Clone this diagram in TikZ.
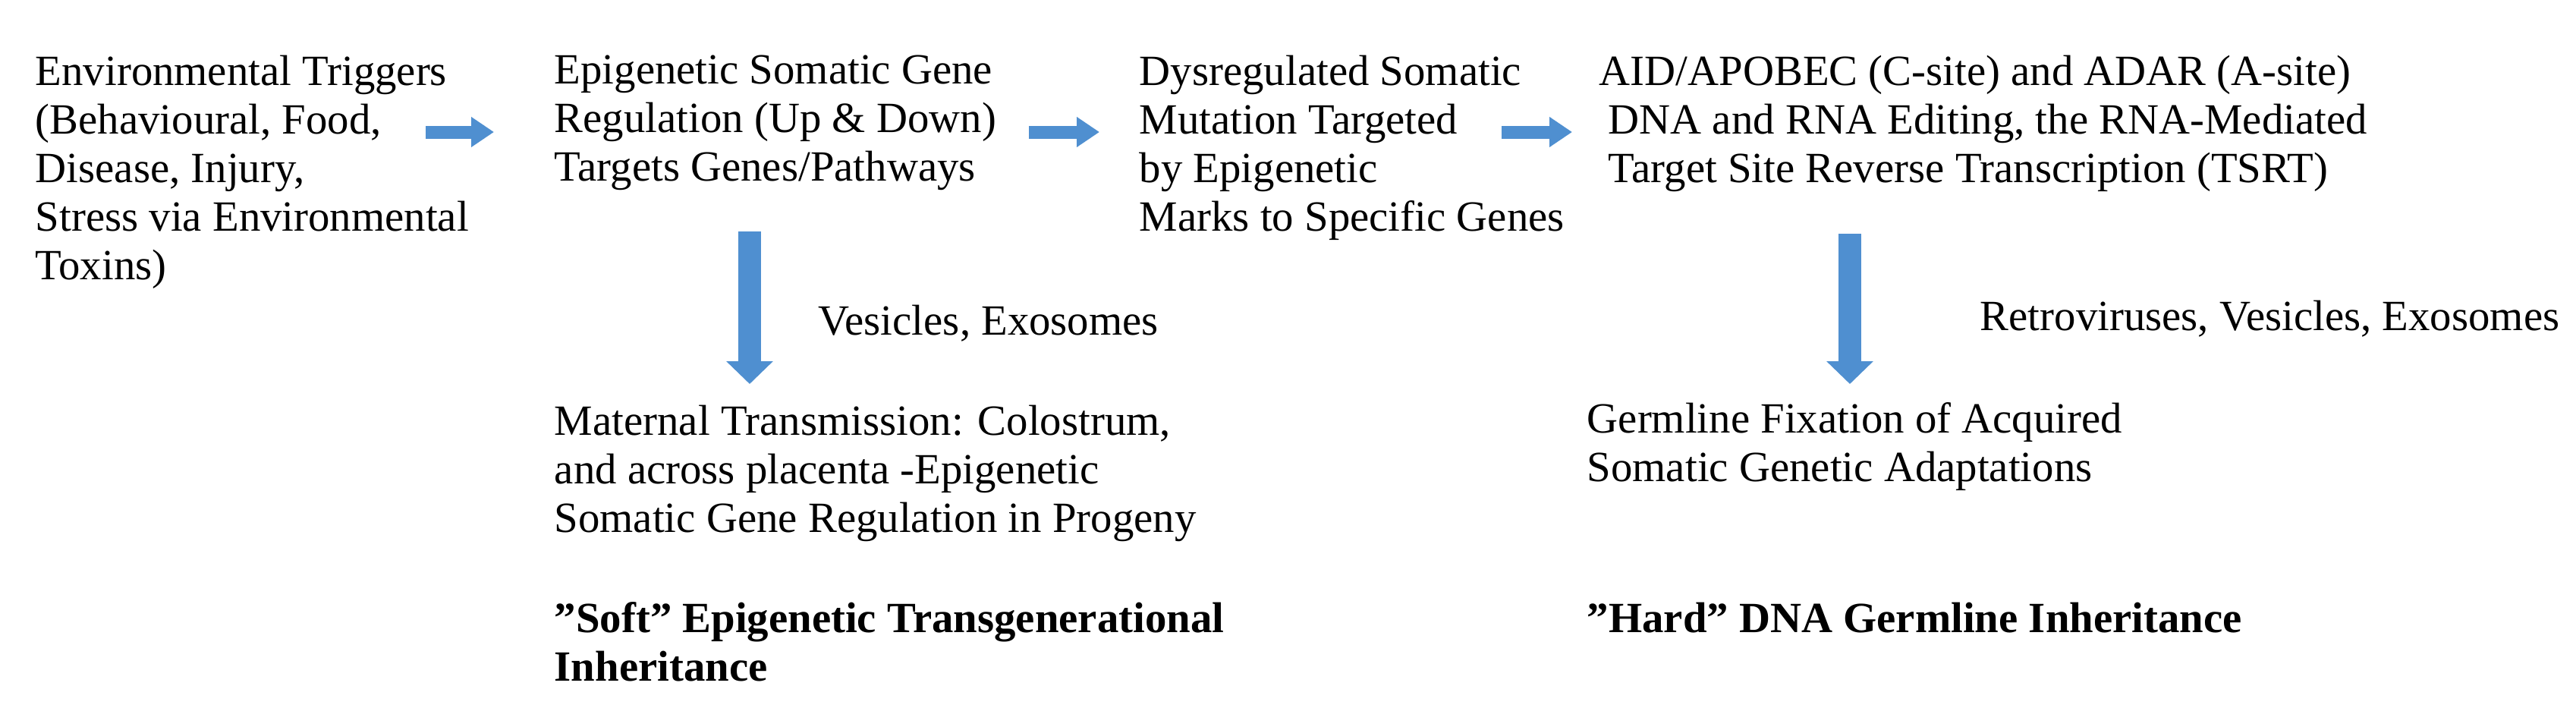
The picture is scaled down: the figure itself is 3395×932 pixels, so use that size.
\documentclass[tikz,border=0pt]{standalone}
\usepackage{fontspec}
\setmainfont{Liberation Serif}
\usetikzlibrary{arrows.meta}
\definecolor{arrblue}{HTML}{4F8FD0}
\newcommand{\dq}{\symbol{34}}
\begin{document}
\begin{tikzpicture}[x=0.25pt,y=-0.25pt,
  txt/.style={inner sep=0pt,anchor=north west,align=left,font=\fontsize{14.2}{16}\selectfont},
  harrow/.style={draw=arrblue,line width=4.25pt,-{Triangle[length=7.5pt,width=9.5pt]}},
  varrow/.style={draw=arrblue,line width=7.5pt,-{Triangle[length=7.5pt,width=15pt]}}]
\useasboundingbox (0,0) rectangle (3395,932);
\node[txt] (env) at (46,72) {Environmental Triggers\\(Behavioural, Food,\\Disease, Injury,\\Stress via Environmental\\Toxins)};
\node[txt] (epi) at (730,72) {Epigenetic Somatic Gene\\Regulation (Up \& Down)\\Targets Genes/Pathways};
\node[txt] (dys) at (1501,72) {Dysregulated Somatic\\Mutation Targeted\\by Epigenetic\\Marks to Specific Genes};
\node[txt] (aid) at (2107,72) {AID/APOBEC (C-site) and ADAR (A-site)\\\hspace*{3pt}DNA and RNA Editing, the RNA-Mediated\\\hspace*{3pt}Target Site Reverse Transcription (TSRT)};
\node[txt] (mat) at (730,533) {Maternal Transmission: Colostrum,\\and across placenta -Epigenetic\\Somatic Gene Regulation in Progeny};
\node[txt] (soft) at (730,793) {\bfseries \dq Soft\dq{} Epigenetic Transgenerational\\\bfseries Inheritance};
\node[txt] (ves) at (1078,401) {Vesicles, Exosomes};
\node[txt] (germ) at (2091,530) {Germline Fixation of Acquired\\Somatic Genetic Adaptations};
\node[txt] (hard) at (2091,793) {\bfseries \dq Hard\dq{} DNA Germline Inheritance};
\node[txt] (retro) at (2609,395) {Retroviruses, Vesicles, Exosomes};
\coordinate (a1s) at (561,174); \coordinate (a1e) at (651,174);
\coordinate (a2s) at (1356,174); \coordinate (a2e) at (1449,174);
\coordinate (a3s) at (1979,174); \coordinate (a3e) at (2072,174);
\coordinate (d1s) at (988,305); \coordinate (d1e) at (988,506);
\coordinate (d2s) at (2438,308); \coordinate (d2e) at (2438,506);
\draw[harrow] (a1s) -- (a1e);
\draw[harrow] (a2s) -- (a2e);
\draw[harrow] (a3s) -- (a3e);
\draw[varrow] (d1s) -- (d1e);
\draw[varrow] (d2s) -- (d2e);
\end{tikzpicture}
\end{document}
